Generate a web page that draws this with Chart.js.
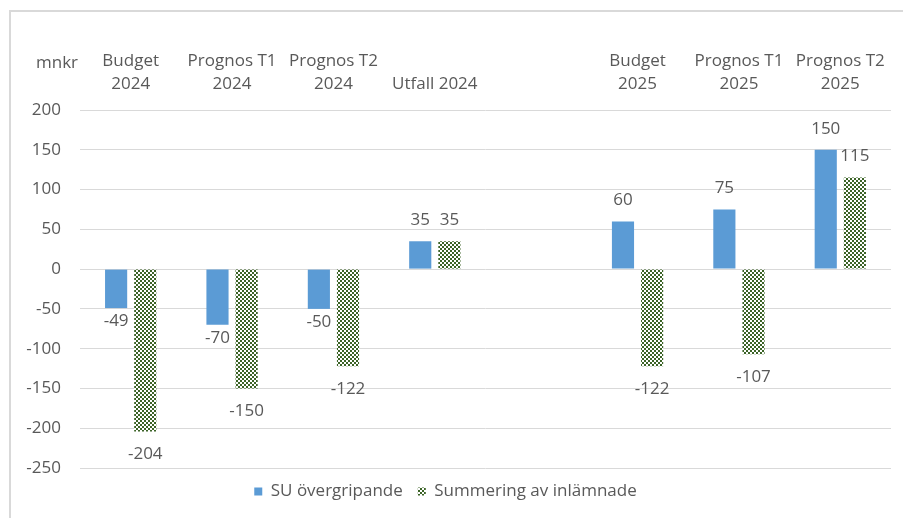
<!DOCTYPE html>
<html>
<head>
<meta charset="utf-8">
<script src="https://cdn.jsdelivr.net/npm/chart.js@4/dist/chart.umd.min.js"></script>
<style>
  html, body { margin: 0; padding: 0; background: #ffffff; }
  #wrap { position: relative; width: 903px; height: 518px; }
</style>
</head>
<body>
<div id="wrap"><canvas id="c" width="903" height="518"></canvas></div>
<script>
const categories = [
  ['Budget', '2024'],
  ['Prognos T1', '2024'],
  ['Prognos T2', '2024'],
  'Utfall 2024',
  '',
  ['Budget', '2025'],
  ['Prognos T1', '2025'],
  ['Prognos T2', '2025']
];
const suOvergripande = [-49, -70, -50, 35, null, 60, 75, 150];
const summeringInlamnade = [-204, -150, -122, 35, null, -122, -107, 115];
const seriesNames = ['SU övergripande', 'Summering av inlämnade'];
const yMin = -250, yMax = 200, yStep = 50;
const unitLabel = 'mnkr';

const FONT = '"Open Sans", "Liberation Sans", sans-serif';
const TEXT = '#595959';
const GRID = '#d9d9d9';
const BLUE = '#5b9bd5';
const GREEN = '#3b6326';

function checkerPattern() {
  const pc = document.createElement('canvas');
  pc.width = 4; pc.height = 4;
  const p = pc.getContext('2d');
  p.fillStyle = '#ffffff';
  p.fillRect(0, 0, 4, 4);
  p.fillStyle = GREEN;
  p.fillRect(0, 0, 2, 2);
  p.fillRect(2, 2, 2, 2);
  return document.getElementById('c').getContext('2d').createPattern(pc, 'repeat');
}
const pattern = checkerPattern();

const frame = {
  id: 'frame',
  beforeDraw(chart) {
    const ctx = chart.ctx;
    ctx.save();
    ctx.strokeStyle = GRID;
    ctx.lineWidth = 2;
    ctx.strokeRect(10, 11, 2000, 2000);
    ctx.fillStyle = TEXT;
    ctx.font = '17px ' + FONT;
    ctx.textAlign = 'left';
    ctx.textBaseline = 'middle';
    ctx.fillText(unitLabel, 36, 63);
    ctx.restore();
  }
};

const valueLabels = {
  id: 'valueLabels',
  afterDatasetsDraw(chart) {
    const ctx = chart.ctx;
    ctx.save();
    ctx.fillStyle = TEXT;
    ctx.font = '17px ' + FONT;
    ctx.textAlign = 'center';
    ctx.textBaseline = 'middle';
    chart.data.datasets.forEach((ds, di) => {
      const meta = chart.getDatasetMeta(di);
      meta.data.forEach((bar, i) => {
        const v = ds.data[i];
        if (v === null || v === undefined) return;
        let y;
        if (v >= 0) y = bar.y - 21;
        else y = bar.y + (di === 0 ? 13 : 23);
        ctx.fillText(String(v), bar.x, y);
      });
    });
    ctx.restore();
  }
};

new Chart(document.getElementById('c'), {
  type: 'bar',
  data: {
    labels: categories,
    datasets: [
      { label: seriesNames[0], data: suOvergripande, backgroundColor: BLUE, borderWidth: 0 },
      { label: seriesNames[1], data: summeringInlamnade, backgroundColor: pattern, borderWidth: 0 }
    ]
  },
  options: {
    responsive: false,
    animation: false,
    events: [],
    categoryPercentage: 0.575,
    barPercentage: 0.76,
    layout: { padding: { left: 0, right: 12, top: 0, bottom: 8 } },
    plugins: {
      tooltip: { enabled: false },
      legend: {
        position: 'bottom',
        labels: {
          color: TEXT,
          font: { family: FONT, size: 17 },
          boxWidth: 8,
          boxHeight: 8,
          padding: 15
        }
      }
    },
    scales: {
      x: {
        position: 'top',
        grid: { display: false, drawTicks: false },
        border: { display: false },
        ticks: {
          color: TEXT,
          font: { family: FONT, size: 17, lineHeight: 1.35 },
          padding: 14,
          maxRotation: 0,
          autoSkip: false
        },
        afterFit(scale) { scale.height = 110; }
      },
      y: {
        min: yMin,
        max: yMax,
        grid: { color: GRID, lineWidth: 1, drawTicks: false },
        border: { display: false },
        ticks: {
          stepSize: yStep,
          color: TEXT,
          font: { family: FONT, size: 17 },
          padding: 19
        },
        afterFit(scale) { scale.width = 80; }
      }
    }
  },
  plugins: [frame, valueLabels]
});
</script>
</body>
</html>
